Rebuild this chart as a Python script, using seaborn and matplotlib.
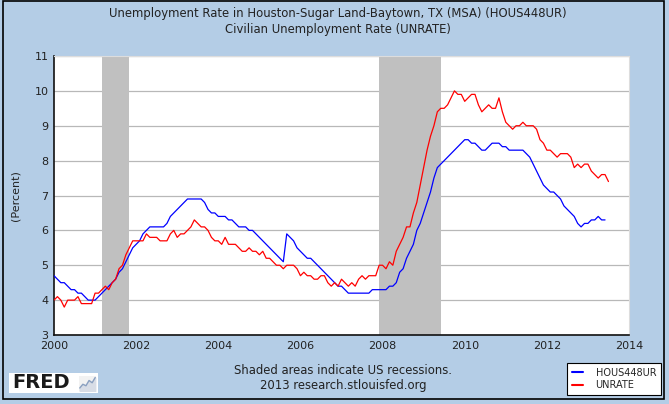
import numpy as np
import pandas as pd
import matplotlib
matplotlib.use("Agg")
import matplotlib.pyplot as plt
import seaborn as sns
from matplotlib.lines import Line2D
from matplotlib.patches import Rectangle

# Monthly values, Jan 2000 onwards
hous448ur = [
    4.7, 4.6, 4.5, 4.5, 4.4, 4.3, 4.3, 4.2, 4.2, 4.1, 4.0, 4.0,  # 2000
    4.0, 4.1, 4.2, 4.3, 4.4, 4.5, 4.6, 4.8, 4.9, 5.1, 5.3, 5.5,  # 2001
    5.6, 5.7, 5.9, 6.0, 6.1, 6.1, 6.1, 6.1, 6.1, 6.2, 6.4, 6.5,  # 2002
    6.6, 6.7, 6.8, 6.9, 6.9, 6.9, 6.9, 6.9, 6.8, 6.6, 6.5, 6.5,  # 2003
    6.4, 6.4, 6.4, 6.3, 6.3, 6.2, 6.1, 6.1, 6.1, 6.0, 6.0, 5.9,  # 2004
    5.8, 5.7, 5.6, 5.5, 5.4, 5.3, 5.2, 5.1, 5.9, 5.8, 5.7, 5.5,  # 2005
    5.4, 5.3, 5.2, 5.2, 5.1, 5.0, 4.9, 4.8, 4.7, 4.6, 4.5, 4.4,  # 2006
    4.4, 4.3, 4.2, 4.2, 4.2, 4.2, 4.2, 4.2, 4.2, 4.3, 4.3, 4.3,  # 2007
    4.3, 4.3, 4.4, 4.4, 4.5, 4.8, 4.9, 5.2, 5.4, 5.6, 6.0, 6.2,  # 2008
    6.5, 6.8, 7.1, 7.5, 7.8, 7.9, 8.0, 8.1, 8.2, 8.3, 8.4, 8.5,  # 2009
    8.6, 8.6, 8.5, 8.5, 8.4, 8.3, 8.3, 8.4, 8.5, 8.5, 8.5, 8.4,  # 2010
    8.4, 8.3, 8.3, 8.3, 8.3, 8.3, 8.2, 8.1, 7.9, 7.7, 7.5, 7.3,  # 2011
    7.2, 7.1, 7.1, 7.0, 6.9, 6.7, 6.6, 6.5, 6.4, 6.2, 6.1, 6.2,  # 2012
    6.2, 6.3, 6.3, 6.4, 6.3, 6.3,                                # 2013
]

unrate = [
    4.0, 4.1, 4.0, 3.8, 4.0, 4.0, 4.0, 4.1, 3.9, 3.9, 3.9, 3.9,
    4.2, 4.2, 4.3, 4.4, 4.3, 4.5, 4.6, 4.9, 5.0, 5.3, 5.5, 5.7,
    5.7, 5.7, 5.7, 5.9, 5.8, 5.8, 5.8, 5.7, 5.7, 5.7, 5.9, 6.0,
    5.8, 5.9, 5.9, 6.0, 6.1, 6.3, 6.2, 6.1, 6.1, 6.0, 5.8, 5.7,
    5.7, 5.6, 5.8, 5.6, 5.6, 5.6, 5.5, 5.4, 5.4, 5.5, 5.4, 5.4,
    5.3, 5.4, 5.2, 5.2, 5.1, 5.0, 5.0, 4.9, 5.0, 5.0, 5.0, 4.9,
    4.7, 4.8, 4.7, 4.7, 4.6, 4.6, 4.7, 4.7, 4.5, 4.4, 4.5, 4.4,
    4.6, 4.5, 4.4, 4.5, 4.4, 4.6, 4.7, 4.6, 4.7, 4.7, 4.7, 5.0,
    5.0, 4.9, 5.1, 5.0, 5.4, 5.6, 5.8, 6.1, 6.1, 6.5, 6.8, 7.3,
    7.8, 8.3, 8.7, 9.0, 9.4, 9.5, 9.5, 9.6, 9.8, 10.0, 9.9, 9.9,
    9.7, 9.8, 9.9, 9.9, 9.6, 9.4, 9.5, 9.6, 9.5, 9.5, 9.8, 9.4,
    9.1, 9.0, 8.9, 9.0, 9.0, 9.1, 9.0, 9.0, 9.0, 8.9, 8.6, 8.5,
    8.3, 8.3, 8.2, 8.1, 8.2, 8.2, 8.2, 8.1, 7.8, 7.9, 7.8, 7.9,
    7.9, 7.7, 7.6, 7.5, 7.6, 7.6, 7.4,
]

recessions = [(2001 + 2 / 12, 2001 + 10 / 12), (2007 + 11 / 12, 2009 + 5 / 12)]
x_ticks = list(range(2000, 2015, 2))
y_ticks = list(range(3, 12))

series_colors = {"HOUS448UR": "#0000ff", "UNRATE": "#ff0000"}
BG = "#b4cde6"


def months(n, start=2000):
    return [start + i / 12 for i in range(n)]


df = pd.concat([
    pd.DataFrame({"t": months(len(hous448ur)), "rate": hous448ur, "series": "HOUS448UR"}),
    pd.DataFrame({"t": months(len(unrate)), "rate": unrate, "series": "UNRATE"}),
])

sns.set_style("white")
plt.rcParams["font.family"] = ["DejaVu Sans"]

fig = plt.figure(figsize=(6.69, 4.04), dpi=100, facecolor=BG)
ax = fig.add_axes([54 / 669, 69 / 404, 575 / 669, 279 / 404])
ax.set_facecolor("white")

for a, b in recessions:
    ax.axvspan(a, b, color="#c0c0c0", lw=0, zorder=1.5)

sns.lineplot(data=df, x="t", y="rate", hue="series", palette=series_colors,
             hue_order=["HOUS448UR", "UNRATE"], linewidth=0.9, legend=False,
             ax=ax, zorder=3)

ax.set_xlim(2000, 2014)
ax.set_ylim(3, 11)
ax.set_xticks(x_ticks)
ax.set_yticks(y_ticks)
ax.yaxis.grid(True, color="#b8b8b8", linewidth=0.9, zorder=1)
ax.xaxis.grid(False)
ax.set_axisbelow(True)
ax.tick_params(axis="both", direction="in", length=4, width=1, color="#222222",
               labelsize=8, labelcolor="#222222", pad=4)
for side in ("left", "bottom"):
    ax.spines[side].set_color("#111111")
    ax.spines[side].set_linewidth(1.2)
for side in ("top", "right"):
    ax.spines[side].set_color("#dddddd")
    ax.spines[side].set_linewidth(0.8)

ax.set_xlabel("")
ax.set_ylabel("(Percent)", fontsize=8, color="#222222")
ax.yaxis.set_label_coords(-0.058, 0.5)

fig.text(338 / 669, 1 - 13 / 404, "Unemployment Rate in Houston-Sugar Land-Baytown, TX (MSA) (HOUS448UR)",
         ha="center", va="center", fontsize=8.4, color="#222222")
fig.text(338 / 669, 1 - 29 / 404, "Civilian Unemployment Rate (UNRATE)",
         ha="center", va="center", fontsize=8.4, color="#222222")
fig.text(343 / 669, 1 - 371 / 404, "Shaded areas indicate US recessions.",
         ha="center", va="center", fontsize=8.4, color="#222222")
fig.text(343 / 669, 1 - 386 / 404, "2013 research.stlouisfed.org",
         ha="center", va="center", fontsize=8.4, color="#222222")

# legend box at bottom right
handles = [Line2D([], [], color=series_colors[k], lw=1.5) for k in series_colors]
leg = fig.legend(handles, list(series_colors), loc="lower right",
                 bbox_to_anchor=(661 / 669, 9 / 404), fontsize=7,
                 frameon=True, fancybox=False, edgecolor="black", framealpha=1,
                 handlelength=1.1, handletextpad=1.3, borderpad=0.5,
                 labelspacing=0.25, borderaxespad=0)
leg.get_frame().set_linewidth(0.8)

# FRED logo
fig.patches.append(Rectangle((9 / 669, 11 / 404), 89 / 669, 20 / 404,
                             transform=fig.transFigure, facecolor="white",
                             edgecolor="none"))
fig.text(12 / 669, 1 - 383 / 404, "FRED", ha="left", va="center",
         fontsize=14, fontweight="bold", color="#1a1a1a")
logo_line = [0.2, 0.45, 0.35, 0.7, 0.55, 0.9]
icon = fig.add_axes([79 / 669, 13 / 404, 17 / 669, 15 / 404], zorder=5)
icon.set_facecolor("#f2f2f2")
icon.plot(range(len(logo_line)), logo_line, color="#8aa0c0", lw=1)
icon.fill_between(range(len(logo_line)), logo_line, color="#d8dde6")
icon.set_ylim(0, 1)
icon.set_xticks([])
icon.set_yticks([])
for s in icon.spines.values():
    s.set_visible(False)

# outer frame
fig.patches.append(Rectangle((3 / 669, 5 / 404), 661 / 669, 398 / 404,
                             transform=fig.transFigure, fill=False,
                             edgecolor="black", linewidth=1.2))

fig.savefig("out.png", dpi=100, facecolor=BG)
